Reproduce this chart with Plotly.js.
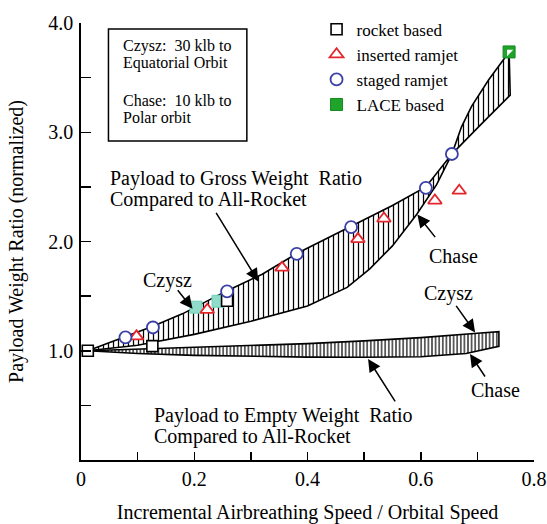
<!DOCTYPE html>
<html>
<head>
<meta charset="utf-8">
<script src="https://cdn.plot.ly/plotly-3.0.1.min.js"></script>
<style>html,body{margin:0;padding:0;background:#fff;}#chart{width:547px;height:524px;}</style>
</head>
<body>
<div id="chart"></div>
<script>
// ---- data ----
const rocketX = [0.012, 0.126, 0.258];
const rocketY = [1.0, 1.042, 1.458];

const insertedX = [0.098, 0.223, 0.355, 0.489, 0.535, 0.625, 0.668];
const insertedY = [1.132, 1.375, 1.761, 2.022, 2.210, 2.375, 2.465];

const stagedX = [0.0785, 0.127, 0.258, 0.381, 0.477, 0.609, 0.655];
const stagedY = [1.123, 1.213, 1.543, 1.887, 2.132, 2.491, 2.801];

const laceX = [0.756];
const laceY = [3.735];

const czyszLaceX = [0.203, 0.242];
const czyszLaceY = [1.399, 1.453];

// Payload to gross weight band
const grossCzyszX = [0.012, 0.078, 0.127, 0.18, 0.258, 0.32, 0.381, 0.477, 0.55, 0.609, 0.655, 0.706, 0.758];
const grossCzyszY = [1.0, 1.13, 1.225, 1.34, 1.55, 1.70, 1.89, 2.14, 2.33, 2.50, 2.80, 3.07, 3.34];
const grossChaseX = [0.012, 0.1, 0.2, 0.3, 0.4, 0.47, 0.51, 0.55, 0.593, 0.628, 0.655, 0.672, 0.69, 0.72, 0.756];
const grossChaseY = [1.0, 1.05, 1.15, 1.27, 1.41, 1.58, 1.75, 1.96, 2.25, 2.52, 2.80, 3.05, 3.24, 3.48, 3.735];

// Payload to empty weight band
const emptyUpperX = [0.012, 0.1, 0.2, 0.3, 0.4, 0.5, 0.6, 0.7, 0.738];
const emptyUpperY = [1.0, 1.015, 1.03, 1.045, 1.065, 1.09, 1.12, 1.16, 1.175];
const emptyLowerX = [0.012, 0.1, 0.2, 0.3, 0.4, 0.5, 0.6, 0.68, 0.738];
const emptyLowerY = [1.0, 0.975, 0.958, 0.948, 0.942, 0.94, 0.945, 0.975, 1.04];

const xTickVals = [0, 0.1, 0.2, 0.3, 0.4, 0.5, 0.6, 0.7, 0.8];
const xTickText = ['0', '', '0.2', '', '0.4', '', '0.6', '', '0.8'];
const yTickVals = [0, 0.5, 1, 1.5, 2, 2.5, 3, 3.5, 4];
const yTickText = ['', '', '1.0', '', '2.0', '', '3.0', '', '4.0'];

// ---- build ----
const FONT = 'Liberation Serif, Times New Roman, serif';

function band(ax, ay, bx, by, size, sol) {
  return {
    type: 'scatter', mode: 'lines',
    x: ax.concat(bx.slice().reverse()),
    y: ay.concat(by.slice().reverse()),
    fill: 'toself', fillcolor: 'white',
    fillpattern: {shape: '|', size: size, solidity: sol, fgcolor: 'black', bgcolor: 'white'},
    line: {color: 'black', width: 1.6},
    showlegend: false, hoverinfo: 'skip'
  };
}

const traces = [
  band(grossCzyszX, grossCzyszY, grossChaseX, grossChaseY, 5, 0.25),
  band(emptyUpperX, emptyUpperY, emptyLowerX, emptyLowerY, 3.6, 0.33),
  {type: 'scatter', mode: 'markers', x: czyszLaceX, y: czyszLaceY, showlegend: false,
   marker: {symbol: 'square', size: 12, color: '#8fdcca', line: {color: '#74cfb9', width: 1}}},
  {type: 'scatter', mode: 'markers', name: 'rocket based', x: rocketX, y: rocketY,
   marker: {symbol: 'square', size: 11, color: 'white', line: {color: 'black', width: 1.6}}},
  {type: 'scatter', mode: 'markers', name: 'inserted ramjet', x: insertedX, y: insertedY,
   marker: {symbol: 'triangle-up', size: 12, color: 'white', line: {color: '#e3262c', width: 1.8}}},
  {type: 'scatter', mode: 'markers', name: 'staged ramjet', x: stagedX, y: stagedY,
   marker: {symbol: 'circle', size: 12, color: 'white', line: {color: '#3a3fa6', width: 1.8}}},
  {type: 'scatter', mode: 'markers', name: 'LACE based', x: laceX, y: laceY,
   marker: {symbol: 'square', size: 12, color: '#1fa32a', line: {color: '#158a20', width: 1}}},
  {type: 'scatter', mode: 'markers', x: laceX, y: laceY, showlegend: false,
   marker: {symbol: 'triangle-nw', size: 7, color: 'white', line: {width: 0}}}
];

function txt(x, y, text, size, anchor) {
  return {x: x, y: y, xref: 'x', yref: 'y', text: text, showarrow: false,
          xanchor: anchor || 'center', yanchor: 'middle',
          font: {family: FONT, size: size, color: 'black'}};
}
function arrow(x, y, ax, ay) {
  return {x: x, y: y, xref: 'x', yref: 'y', text: '', showarrow: true,
          ax: ax, ay: ay, arrowhead: 2, arrowsize: 1.7, arrowwidth: 1.5, arrowcolor: 'black'};
}

const annotations = [
  // box text
  txt(0.0709, 3.787, 'Czysz:\u00a0 30 klb to', 16, 'left'),
  txt(0.0709, 3.630, 'Equatorial Orbit', 16, 'left'),
  txt(0.0709, 3.292, 'Chase:\u00a0 10 klb to', 16, 'left'),
  txt(0.0709, 3.135, 'Polar orbit', 16, 'left'),
  // band descriptions
  txt(0.0485, 2.579, 'Payload to Gross Weight\u00a0 Ratio', 20, 'left'),
  txt(0.0485, 2.381, 'Compared to All-Rocket', 20, 'left'),
  txt(0.1256, 0.409, 'Payload to Empty Weight\u00a0 Ratio', 20, 'left'),
  txt(0.1256, 0.211, 'Compared to All-Rocket', 20, 'left'),
  txt(0.1521, 1.647, 'Czysz', 20),
  txt(0.6576, 1.871, 'Chase', 20),
  txt(0.6488, 1.527, 'Czysz', 20),
  txt(0.7312, 0.644, 'Chase', 20),
  // arrows
  arrow(0.313, 1.635, -43, -70),
  arrow(0.197, 1.384, -16, -20),
  arrow(0.594, 2.246, 19, 24),
  arrow(0.696, 1.168, -20, -28),
  arrow(0.687, 0.970, 16, 24),
  arrow(0.507, 0.925, 28, 44)
];

const layout = {
  width: 547, height: 524,
  margin: {l: 80.5, r: 13, t: 14.7, b: 64, pad: 0},
  paper_bgcolor: 'white', plot_bgcolor: 'white',
  font: {family: FONT, size: 20, color: 'black'},
  xaxis: {
    range: [0, 0.8], tickvals: xTickVals, ticktext: xTickText,
    ticks: 'inside', ticklen: 8, tickwidth: 1.5, tickcolor: 'black',
    showline: true, linewidth: 1.6, linecolor: 'black',
    showgrid: false, zeroline: false, fixedrange: true,
    tickfont: {family: FONT, size: 20},
    title: {text: 'Incremental Airbreathing Speed / Orbital Speed', font: {family: FONT, size: 20}, standoff: 16}
  },
  yaxis: {
    range: [0, 4], tickvals: yTickVals, ticktext: yTickText,
    ticks: 'inside', ticklen: 10, tickwidth: 1.5, tickcolor: 'black',
    showline: true, linewidth: 1.8, linecolor: 'black',
    showgrid: false, zeroline: false, fixedrange: true,
    tickfont: {family: FONT, size: 20},
    ticklabelstandoff: 2,
    title: {text: 'Payload Weight Ratio (normalized)', font: {family: FONT, size: 20}, standoff: 19}
  },
  legend: {
    x: 0.52, y: 1.026, xanchor: 'left', yanchor: 'top',
    bgcolor: 'rgba(0,0,0,0)', borderwidth: 0,
    font: {family: FONT, size: 17, color: 'black'}
  },
  shapes: [
    {type: 'rect', xref: 'x', yref: 'y', x0: 0.0485, x1: 0.2929, y0: 2.920, y1: 3.944,
     line: {color: 'black', width: 1.5}, fillcolor: 'rgba(0,0,0,0)'}
  ],
  annotations: annotations,
  showlegend: true
};

Plotly.newPlot('chart', traces, layout, {staticPlot: true, displayModeBar: false});
</script>
</body>
</html>
